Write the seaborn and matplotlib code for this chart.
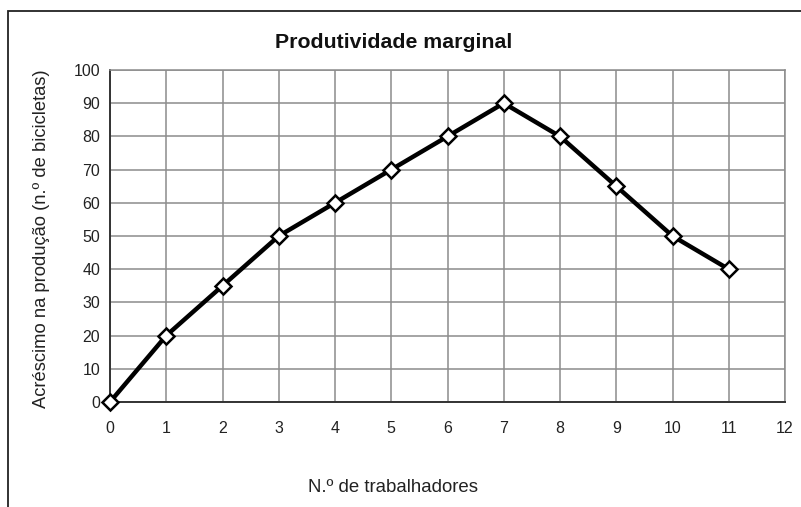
import matplotlib
matplotlib.use("Agg")
import matplotlib.pyplot as plt
import seaborn as sns
import pandas as pd
from matplotlib.patches import Rectangle

workers = [0, 1, 2, 3, 4, 5, 6, 7, 8, 9, 10, 11]
increase = [0, 20, 35, 50, 60, 70, 80, 90, 80, 65, 50, 40]
x_ticks = list(range(0, 13))
y_ticks = list(range(0, 101, 10))

title = "Produtividade marginal"
xlabel = "N.º de trabalhadores"
ylabel = "Acréscimo na produção (n.º de bicicletas)"

sns.set_theme(style="white")
plt.rcParams['font.family'] = ['Liberation Sans', 'DejaVu Sans']

df = pd.DataFrame({"x": workers, "y": increase})

fig = plt.figure(figsize=(8.01, 5.07), dpi=100)
ax = fig.add_axes([110/801, 1 - 402/507, (785 - 110)/801, (402 - 70)/507])

sns.lineplot(data=df, x="x", y="y", ax=ax, color="black", linewidth=3.2,
             marker="D", markersize=8.5, markerfacecolor="white",
             markeredgecolor="black", markeredgewidth=1.8, clip_on=False, zorder=5)

ax.set_xlim(0, 12)
ax.set_ylim(0, 100)
ax.set_xticks(x_ticks)
ax.set_yticks(y_ticks)
ax.grid(True, color="#8c8c8c", linewidth=1.1)
ax.set_axisbelow(True)
ax.tick_params(axis="x", length=0, pad=14, labelsize=11.5, labelcolor="#222222")
ax.tick_params(axis="y", length=0, pad=7, labelsize=11.5, labelcolor="#222222")
for s in ["top", "right"]:
    ax.spines[s].set_color("#8c8c8c")
    ax.spines[s].set_linewidth(1.1)
for s in ["left", "bottom"]:
    ax.spines[s].set_color("#333333")
    ax.spines[s].set_linewidth(1.4)
ax.set_xlabel("")
ax.set_ylabel("")

fig.text(393.5/801, 1 - 42/507, title, ha="center", va="center",
         fontsize=15.3, fontweight="bold", color="#111111")
fig.text(393.5/801, 1 - 487/507, xlabel, ha="center", va="center",
         fontsize=13.4, color="#222222")
fig.text(42/801, 1 - 239/507, ylabel, ha="center", va="center",
         rotation=90, fontsize=13.2, color="#222222")

fig.patches.append(Rectangle((8/801, -0.05), 1.2, 1 - 11/507 + 0.05,
                             transform=fig.transFigure, fill=False,
                             edgecolor="#222222", linewidth=1.3))

fig.savefig("out.png", dpi=100)
